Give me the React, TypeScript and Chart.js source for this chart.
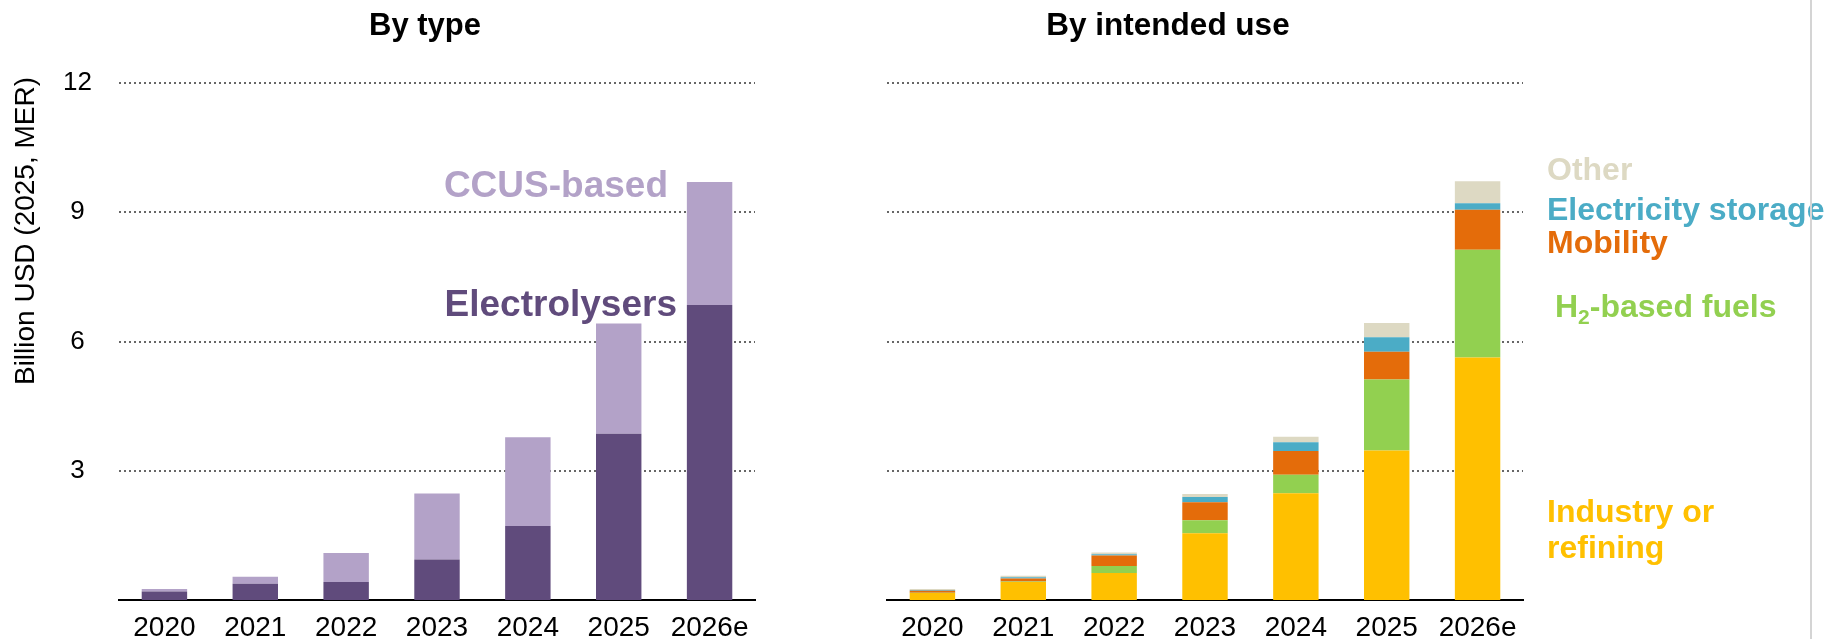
import { useEffect, useRef } from "react";
import { Chart, registerables } from "chart.js";

Chart.register(...registerables);

// Investment in low-emissions hydrogen production, billion USD (2025, MER)
const years = ["2020", "2021", "2022", "2023", "2024", "2025", "2026e"];

// By type
const electrolysers = [0.2, 0.38, 0.42, 0.94, 1.72, 3.86, 6.85];
const ccusBased = [0.055, 0.16, 0.67, 1.53, 2.06, 2.56, 2.85];

// By intended use
const industryRefining = [0.16, 0.42, 0.625, 1.55, 2.48, 3.47, 5.63];
const h2BasedFuels = [0.01, 0.01, 0.165, 0.3, 0.43, 1.65, 2.5];
const mobility = [0.045, 0.07, 0.24, 0.42, 0.55, 0.64, 0.93];
const electricityStorage = [0.02, 0.03, 0.03, 0.12, 0.2, 0.34, 0.15];
const otherUse = [0.02, 0.03, 0.04, 0.07, 0.13, 0.33, 0.51];

// Labelled gridlines (the zero line is the category axis itself)
const yTicks = [3, 6, 9, 12];

const FONT = '"Liberation Sans", Arial, Helvetica, sans-serif';

const COLORS = {
  electrolysers: "#604B7C",
  ccus: "#B3A2C8",
  industry: "#FFC000",
  h2: "#92D050",
  mobility: "#E46C0A",
  storage: "#4BACC6",
  other: "#DDD9C3",
};

const HEIGHT = 639;
const LEFT_W = 800;
const RIGHT_W = 1026;

function baseScales(yWidth: number, showYTicks: boolean) {
  return {
    x: {
      stacked: true,
      grid: { display: false, drawTicks: false },
      border: { display: true, color: "#000", width: 2 },
      ticks: {
        color: "#000",
        font: { family: FONT, size: 28 },
        padding: 11,
        maxRotation: 0,
        autoSkip: false,
      },
      afterFit(scale: any) {
        scale.height = 39;
      },
    },
    y: {
      stacked: true,
      min: 0,
      max: 12,
      afterBuildTicks(scale: any) {
        scale.ticks = yTicks.map((v) => ({ value: v }));
      },
      grid: {
        drawTicks: false,
        lineWidth: 2,
        color: "#666666",
      },
      border: { display: false, dash: [2, 3] },
      ticks: {
        display: showYTicks,
        color: "#000",
        font: { family: FONT, size: 26 },
        padding: 27,
        crossAlign: "center",
      },
      afterFit(scale: any) {
        scale.width = yWidth;
        // keep the plot area identical on both panels
        scale.paddingTop = 0;
        scale.paddingBottom = 0;
      },
    },
  };
}

const byTypeText = {
  id: "byTypeText",
  afterDraw(chart: any) {
    const ctx = chart.ctx;
    ctx.save();
    ctx.textBaseline = "alphabetic";
    ctx.fillStyle = "#000";
    ctx.font = `bold 31px ${FONT}`;
    ctx.textAlign = "center";
    ctx.fillText("By type", 425, 35);

    ctx.font = `bold 37px ${FONT}`;
    ctx.textAlign = "right";
    ctx.fillStyle = COLORS.ccus;
    ctx.fillText("CCUS-based", 668, 197);
    ctx.fillStyle = COLORS.electrolysers;
    ctx.fillText("Electrolysers", 677, 316);

    // y-axis title
    ctx.translate(26, 231);
    ctx.rotate(-Math.PI / 2);
    ctx.fillStyle = "#000";
    ctx.font = `28px ${FONT}`;
    ctx.textAlign = "center";
    ctx.textBaseline = "middle";
    ctx.fillText("Billion USD (2025, MER)", 0, 0);
    ctx.restore();
  },
};

const byUseText = {
  id: "byUseText",
  afterDraw(chart: any) {
    const ctx = chart.ctx;
    ctx.save();
    ctx.textBaseline = "alphabetic";
    ctx.fillStyle = "#000";
    ctx.font = `bold 31.5px ${FONT}`;
    ctx.textAlign = "center";
    ctx.fillText("By intended use", 368, 35);

    ctx.textAlign = "left";
    const x0 = 747;
    ctx.font = `bold 32px ${FONT}`;
    ctx.fillStyle = COLORS.other;
    ctx.fillText("Other", x0, 180);
    ctx.fillStyle = COLORS.storage;
    ctx.fillText("Electricity storage", x0, 220);
    ctx.fillStyle = COLORS.mobility;
    ctx.fillText("Mobility", x0, 253);

    // H2-based fuels, with subscript 2
    ctx.fillStyle = COLORS.h2;
    let x = 755;
    ctx.font = `bold 32px ${FONT}`;
    ctx.fillText("H", x, 317);
    x += ctx.measureText("H").width;
    ctx.font = `bold 21px ${FONT}`;
    ctx.fillText("2", x, 324);
    x += ctx.measureText("2").width;
    ctx.font = `bold 32px ${FONT}`;
    ctx.fillText("-based fuels", x, 317);

    ctx.fillStyle = COLORS.industry;
    ctx.fillText("Industry or", x0, 522);
    ctx.fillText("refining", x0, 558);

    // page edge rule
    ctx.strokeStyle = "#d4d4d4";
    ctx.lineWidth = 2;
    ctx.beginPath();
    ctx.moveTo(1011, 0);
    ctx.lineTo(1011, HEIGHT);
    ctx.stroke();
    ctx.restore();
  },
};

function makeDataset(label: string, data: number[], color: string) {
  return {
    label,
    data,
    backgroundColor: color,
    borderWidth: 0,
    barPercentage: 0.5,
    categoryPercentage: 1,
    stack: "total",
  };
}

export default function App() {
  const leftRef = useRef<HTMLCanvasElement | null>(null);
  const rightRef = useRef<HTMLCanvasElement | null>(null);

  useEffect(() => {
    if (!leftRef.current || !rightRef.current) return;

    const left = new Chart(leftRef.current, {
      type: "bar",
      data: {
        labels: years,
        datasets: [
          makeDataset("Electrolysers", electrolysers, COLORS.electrolysers),
          makeDataset("CCUS-based", ccusBased, COLORS.ccus),
        ],
      },
      options: {
        responsive: false,
        animation: false,
        layout: { padding: { top: 83, right: LEFT_W - 755, left: 0, bottom: 0 } },
        plugins: { legend: { display: false }, tooltip: { enabled: false }, title: { display: false } },
        scales: baseScales(119, true) as any,
      },
      plugins: [byTypeText],
    });

    const right = new Chart(rightRef.current, {
      type: "bar",
      data: {
        labels: years,
        datasets: [
          makeDataset("Industry or refining", industryRefining, COLORS.industry),
          makeDataset("H2-based fuels", h2BasedFuels, COLORS.h2),
          makeDataset("Mobility", mobility, COLORS.mobility),
          makeDataset("Electricity storage", electricityStorage, COLORS.storage),
          makeDataset("Other", otherUse, COLORS.other),
        ],
      },
      options: {
        responsive: false,
        animation: false,
        layout: { padding: { top: 83, right: RIGHT_W - 723, left: 0, bottom: 0 } },
        plugins: { legend: { display: false }, tooltip: { enabled: false }, title: { display: false } },
        scales: baseScales(87, false) as any,
      },
      plugins: [byUseText],
    });

    return () => {
      left.destroy();
      right.destroy();
    };
  }, []);

  return (
    <div
      style={{
        position: "fixed",
        left: 0,
        top: 0,
        width: LEFT_W + RIGHT_W,
        height: HEIGHT,
        background: "#fff",
      }}
    >
      <canvas
        ref={leftRef}
        width={LEFT_W}
        height={HEIGHT}
        style={{ position: "absolute", left: 0, top: 0, width: LEFT_W, height: HEIGHT }}
      />
      <canvas
        ref={rightRef}
        width={RIGHT_W}
        height={HEIGHT}
        style={{ position: "absolute", left: LEFT_W, top: 0, width: RIGHT_W, height: HEIGHT }}
      />
    </div>
  );
}
